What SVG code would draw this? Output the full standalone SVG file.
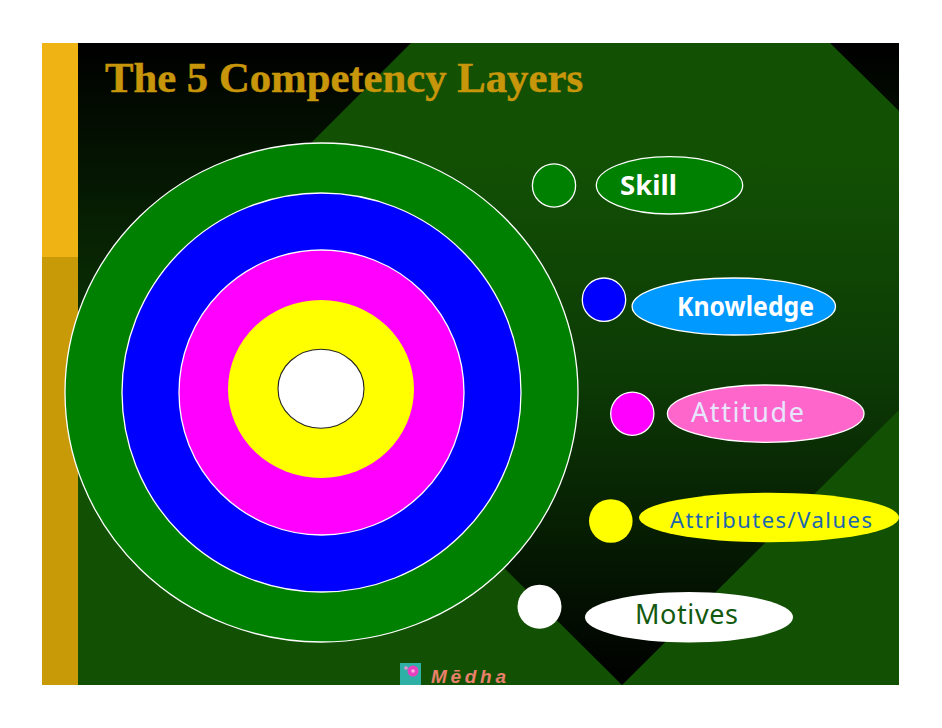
<svg xmlns="http://www.w3.org/2000/svg" width="942" height="728" viewBox="0 0 942 728">
<style>
.lbl{font-family:"Noto Sans","DejaVu Sans",sans-serif;font-size:27px}
.b{font-weight:700}
.ring{stroke:#fff;stroke-width:1.3}
</style>
<defs>
<linearGradient id="dark" gradientUnits="userSpaceOnUse" x1="0" y1="43" x2="0" y2="685">
<stop offset="0" stop-color="#000"/><stop offset="0.525" stop-color="#0c3a05"/><stop offset="1" stop-color="#000"/>
</linearGradient>
<linearGradient id="light" gradientUnits="userSpaceOnUse" x1="0" y1="43" x2="0" y2="380">
<stop offset="0" stop-color="#125004"/><stop offset="0.35" stop-color="#125004"/><stop offset="1" stop-color="#0c3a05"/>
</linearGradient>
</defs>
<rect width="942" height="728" fill="#fff"/>
<g id="background">
<rect x="78" y="43" width="821" height="642" fill="url(#dark)"/>
<polygon points="411,43 830,43 899,111 899,380 78,380 78,376" fill="url(#light)"/>
<polygon points="78,380 315,380 622,685 78,685" fill="#125004"/>
<polygon points="899,410 899,685 622,685" fill="#125004"/>
<rect x="42" y="43" width="36" height="214" fill="#f0b314"/>
<rect x="42" y="257" width="36" height="428" fill="#c89a08"/>
</g>
<text id="title" x="105" y="92" font-family="'Liberation Serif',serif" font-weight="700" font-size="43" fill="#c8960a" stroke="#c8960a" stroke-width="0.5" textLength="478" lengthAdjust="spacingAndGlyphs">The 5 Competency Layers</text>
<g id="rings">
<ellipse class="ring" cx="321.5" cy="392.5" rx="256.5" ry="249.5" fill="#008000"/>
<ellipse class="ring" cx="321.5" cy="392.5" rx="199.5" ry="199.5" fill="#0000ff"/>
<ellipse class="ring" cx="321.5" cy="392.5" rx="142.5" ry="142.5" fill="#ff00ff"/>
<ellipse cx="321" cy="389" rx="93" ry="89" fill="#ffff00"/>
<ellipse cx="321" cy="388.7" rx="43" ry="39.5" fill="#fff" stroke="#222" stroke-width="1.1"/>
</g>
<g id="node-skill">
<circle class="ring" cx="554" cy="185.5" r="21.6" fill="#008000"/>
<ellipse class="ring" cx="669.5" cy="185.3" rx="73.2" ry="28.7" fill="#008000"/>
<text class="lbl b" x="620" y="195" fill="#fff" textLength="57" lengthAdjust="spacingAndGlyphs">Skill</text>
</g>
<g id="node-knowledge">
<circle class="ring" cx="604" cy="299.7" r="21.7" fill="#0000ff"/>
<ellipse class="ring" cx="733.8" cy="306.5" rx="101.7" ry="28.5" fill="#0099ff"/>
<text class="lbl b" x="677" y="316" fill="#fff" textLength="137" lengthAdjust="spacingAndGlyphs">Knowledge</text>
</g>
<g id="node-attitude">
<circle class="ring" cx="632.3" cy="413.8" r="21.6" fill="#ff00ff"/>
<ellipse class="ring" cx="765.7" cy="413.7" rx="98.3" ry="28.7" fill="#ff66cc"/>
<text class="lbl" x="691" y="422" fill="#e6e6ff" textLength="113">Attitude</text>
</g>
<g id="node-attributes">
<circle cx="610.8" cy="521" r="21.8" fill="#ffff00"/>
<ellipse cx="769" cy="517.5" rx="130" ry="24.8" fill="#ffff00"/>
<text class="lbl" x="670" y="527.5" fill="#1a66b0" style="font-size:22px" textLength="202">Attributes/Values</text>
</g>
<g id="node-motives">
<circle cx="539.5" cy="606.7" r="22" fill="#fff"/>
<ellipse cx="689" cy="617.3" rx="104" ry="25.3" fill="#fff"/>
<text class="lbl" x="635" y="624" fill="#135a10" textLength="103">Motives</text>
</g>
<g id="logo">
<rect x="400" y="663" width="21" height="22" fill="#2fb0a6"/>
<circle cx="413" cy="671" r="5.5" fill="#e840c0"/>
<circle cx="413" cy="671" r="1.8" fill="#f8b0e0"/>
<circle cx="406" cy="668" r="1.8" fill="#f090d0"/>
<text x="431" y="683" font-family="'Liberation Sans',sans-serif" font-weight="700" font-style="italic" font-size="19" fill="#e8806a" textLength="75">Mēdha</text>
</g>
</svg>
